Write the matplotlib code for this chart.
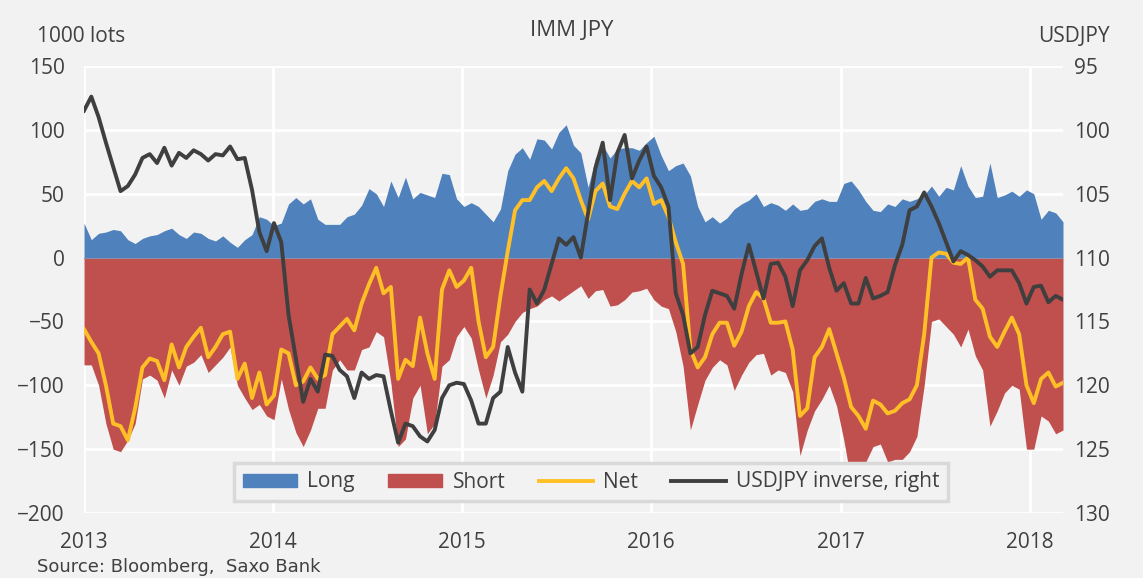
import matplotlib
matplotlib.use("Agg")
import matplotlib.pyplot as plt
import matplotlib.dates as mdates
from matplotlib.patches import Patch
from matplotlib.lines import Line2D
import pandas as pd

# IMM JPY positioning (1000 lots), read roughly every two weeks, Jan 2013 - Mar 2018
long_pos = [27, 14, 19, 20, 22, 21, 14, 11, 15, 17, 18, 21, 23, 18, 15, 20, 19, 15, 13, 17, 12, 8, 14,
            18, 32, 30, 25, 27, 42, 47, 42, 46, 30, 26, 26, 26, 32, 34, 41, 54, 50, 40, 60, 47, 63, 46,
            51, 49, 47, 66, 65, 46, 40, 43, 40, 34, 28, 38, 68, 81, 86, 77, 93, 92, 85, 98, 104, 88, 82,
            55, 78, 88, 78, 85, 86, 86, 84, 90, 95, 80, 68, 72, 74, 64, 40, 28, 32, 27, 31, 38, 42,
            45, 50, 40, 43, 41, 37, 42, 37, 38, 44, 46, 44, 44, 58, 60, 53, 44, 37, 36, 42, 40, 46, 44,
            46, 49, 56, 48, 55, 53, 72, 56, 47, 48, 74, 47, 49, 52, 48, 53, 50, 30, 37, 35, 28]

short_pos = [-84, -84, -100, -130, -150, -152, -143, -130, -95, -92, -96, -110, -88, -100, -85, -82, -76, -90, -84, -78, -70, -100, -110,
             -119, -115, -124, -127, -95, -119, -137, -148, -135, -118, -118, -88, -80, -88, -88, -72, -70, -58, -62, -98, -148, -142, -110,
             -100, -138, -130, -85, -80, -62, -54, -63, -88, -110, -92, -66, -60, -50, -43, -40, -38, -33, -30, -34, -30, -26, -22,
             -32, -26, -25, -38, -37, -33, -27, -26, -24, -33, -38, -40, -58, -85, -135, -115, -96, -86, -80, -84, -104, -92,
             -82, -76, -75, -92, -88, -90, -105, -155, -135, -120, -111, -100, -116, -143, -175, -180, -160, -148, -146, -160, -158, -158, -152,
             -140, -100, -50, -48, -54, -60, -70, -56, -77, -88, -132, -120, -106, -100, -103, -150, -150, -124, -128, -138, -135]

net_pos = [-56, -66, -75, -100, -130, -132, -143, -118, -86, -79, -81, -96, -68, -86, -70, -62, -55, -78, -70, -60, -58, -95, -83,
           -110, -90, -115, -108, -72, -75, -100, -97, -86, -95, -92, -60, -54, -48, -57, -36, -21, -8, -28, -23, -95, -80, -85,
           -47, -75, -95, -25, -10, -23, -18, -8, -50, -78, -70, -30, 5, 37, 45, 45, 55, 60, 52, 62, 70, 62, 45,
           30, 52, 58, 40, 38, 50, 60, 55, 62, 42, 45, 32, 12, -5, -72, -86, -78, -60, -51, -51, -69, -58,
           -38, -27, -32, -51, -51, -50, -72, -124, -118, -78, -70, -56, -75, -94, -117, -124, -134, -112, -115, -122, -120, -114, -111,
           -100, -60, 0, 4, 3, -4, -5, 0, -33, -40, -62, -70, -58, -47, -60, -100, -114, -95, -90, -101, -98]

usdjpy = [98.5, 97.4, 99.0, 101.0, 102.9, 104.8, 104.4, 103.5, 102.2, 101.9, 102.6, 101.4, 102.8, 101.8, 102.2, 101.6, 101.9, 102.4, 101.9, 102.0, 101.3, 102.3, 102.2,
          104.7, 108.0, 109.5, 107.3, 108.8, 114.5, 117.9, 121.3, 119.5, 120.5, 117.6, 117.7, 118.8, 119.3, 121.0, 119.0, 119.5, 119.2, 119.3, 122.0, 124.5, 123.0, 123.2,
          124.0, 124.4, 123.5, 121.0, 120.0, 119.8, 119.9, 121.2, 123.0, 123.0, 121.0, 120.5, 117.0, 119.0, 120.5, 112.5, 113.6, 112.5, 110.5, 108.5, 109.0, 108.4, 110.0,
          106.5, 103.0, 101.0, 105.5, 101.8, 100.4, 103.8, 102.4, 101.3, 103.6, 104.5, 106.0, 112.8, 114.5, 117.5, 117.0, 114.5, 112.6, 112.8, 113.0, 114.0, 111.3,
          109.0, 111.1, 113.2, 110.5, 110.4, 111.5, 113.8, 111.0, 110.2, 109.1, 108.5, 110.8, 112.6, 112.0, 113.6, 113.6, 111.6, 113.2, 113.0, 112.7, 110.6, 109.0, 106.3,
          106.0, 104.9, 106.0, 107.3, 108.8, 110.3, 109.5, 109.8, 110.2, 110.7, 111.5, 111.0, 111.0, 111.0, 112.0, 113.6, 112.3, 112.2, 113.5, 113.0, 113.3]

dates = pd.date_range("2013-01-01", "2018-03-06", periods=len(long_pos))

left_ticks = [-200, -150, -100, -50, 0, 50, 100, 150]
right_ticks = [95, 100, 105, 110, 115, 120, 125, 130]

BG = "#F2F2F2"
TXT = "#404040"
plt.rcParams["font.family"] = ["Open Sans", "DejaVu Sans"]

fig = plt.figure(figsize=(11.43, 5.78), dpi=100, facecolor=BG)
ax = fig.add_axes([84 / 1143, 1 - 513 / 578, (1063 - 84) / 1143, (513 - 66) / 578])
ax.set_facecolor(BG)

ax.fill_between(dates, 0, long_pos, color="#4F81BD", lw=0)
ax.fill_between(dates, 0, short_pos, color="#C0504D", lw=0)
ax.axhline(0, color="#8D8FA8", lw=0.8)
ax.plot(dates, net_pos, color="#FFBF27", lw=2.8)

ax.set_ylim(-200, 150)
ax.set_yticks(left_ticks)
ax.set_xlim(dates[0], dates[-1])
ax.xaxis.set_major_locator(mdates.YearLocator())
ax.xaxis.set_major_formatter(mdates.DateFormatter("%Y"))
ax.grid(color="white", lw=2)
ax.set_axisbelow(True)
for s in ax.spines.values():
    s.set_visible(False)
ax.tick_params(axis="y", length=0, pad=14, labelsize=15, labelcolor=TXT)
ax.tick_params(axis="x", length=0, pad=14, labelsize=15, labelcolor=TXT)

# USDJPY on inverted right axis
ax2 = ax.twinx()
ax2.plot(dates, usdjpy, color="#3F3F3F", lw=2.8)
ax2.set_ylim(130, 95)
ax2.set_yticks(right_ticks)
for s in ax2.spines.values():
    s.set_visible(False)
ax2.tick_params(axis="y", length=0, pad=8, labelsize=15, labelcolor=TXT)

handles = [Patch(color="#4F81BD"), Patch(color="#C0504D"),
           Line2D([], [], color="#FFBF27", lw=2.8), Line2D([], [], color="#3F3F3F", lw=2.8)]
labels = ["Long", "Short", "Net", "USDJPY inverse, right"]
leg = ax2.legend(handles, labels, loc="center", bbox_to_anchor=(591 / 1143, 1 - 482 / 578),
                 bbox_transform=fig.transFigure, ncol=4, fontsize=15, frameon=True,
                 fancybox=False, handlelength=2.6, handleheight=0.6, handletextpad=0.5,
                 columnspacing=1.6, borderpad=0.4)
leg.get_frame().set_facecolor(BG)
leg.get_frame().set_edgecolor("#D9D9D9")
leg.get_frame().set_linewidth(2.5)
leg.get_frame().set_alpha(1)
for t in leg.get_texts():
    t.set_color(TXT)

fig.text(0.5, 1 - 30 / 578, "IMM JPY", ha="center", va="center", fontsize=16, color=TXT)
fig.text(37 / 1143, 1 - 36 / 578, "1000 lots", ha="left", va="center", fontsize=15, color=TXT)
fig.text(1110 / 1143, 1 - 36 / 578, "USDJPY", ha="right", va="center", fontsize=15, color=TXT)
fig.text(37 / 1143, 1 - 567 / 578, "Source: Bloomberg,  Saxo Bank", ha="left", va="center",
         fontsize=13, color=TXT, family="DejaVu Sans")

fig.savefig("out.png", dpi=100, facecolor=BG)
